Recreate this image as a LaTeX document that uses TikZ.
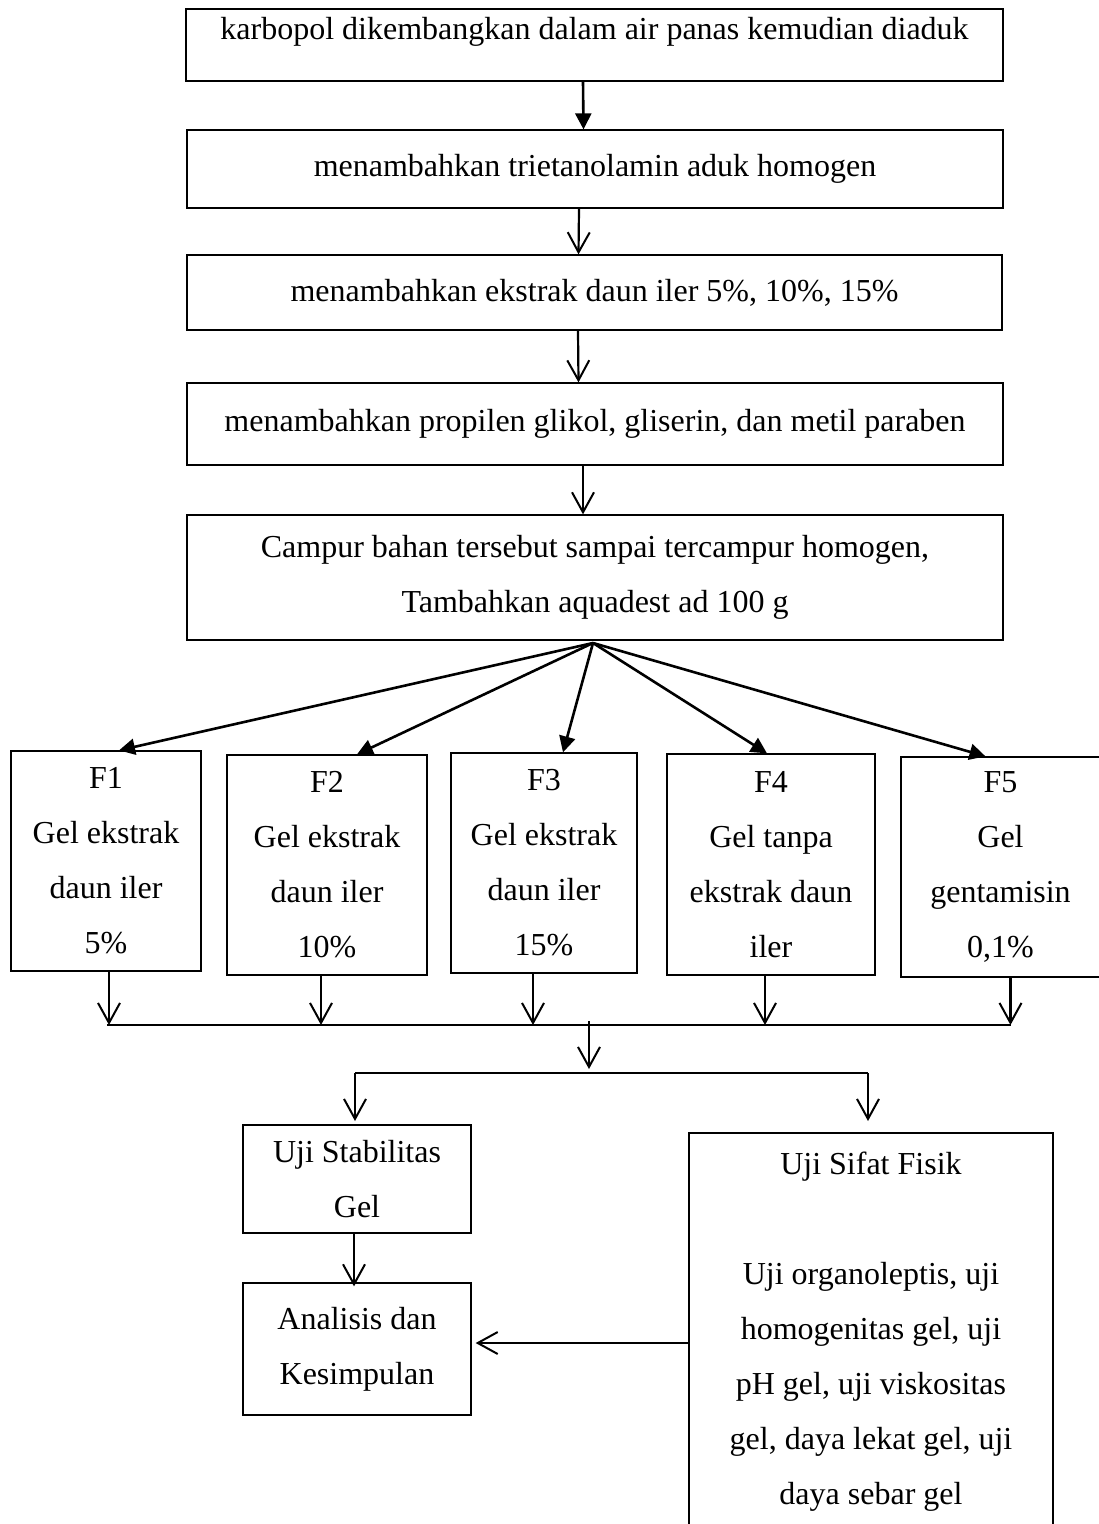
\documentclass[tikz,border=0pt]{standalone}
\usepackage{fontspec}
\setmainfont{Liberation Serif}
\usetikzlibrary{arrows.meta}

\tikzset{
  box/.style={draw, line width=1.3pt, align=center, inner sep=0pt},
  arr/.style={line width=2.2pt, -{Straight Barb[length=20pt,width=22pt,line width=2pt]}},
  farr/.style={line width=2.6pt, -{Triangle[length=16pt,width=16pt]}},
  bar/.style={line width=2.6pt}
}

\begin{document}
\begin{tikzpicture}[x=1pt, y=-1pt, font=\fontsize{32pt}{55pt}\selectfont]
    \useasboundingbox (0,0) rectangle (1099,1524);

    % langkah pembuatan gel
    \node[box, minimum width=817pt, minimum height=72pt, text depth=34pt] (k1) at (594.5,45)
        {karbopol dikembangkan dalam air panas kemudian diaduk};
    \node[box, minimum width=816pt, minimum height=78pt] (k2) at (595,169)
        {menambahkan trietanolamin aduk homogen};
    \node[box, minimum width=815pt, minimum height=75pt] (k3) at (594.5,292.5)
        {menambahkan ekstrak daun iler 5\%, 10\%, 15\%};
    \node[box, minimum width=816pt, minimum height=82pt] (k4) at (595,424)
        {menambahkan propilen glikol, gliserin, dan metil paraben};
    \node[box, minimum width=816pt, minimum height=125pt] (k5) at (595,577.5)
        {Campur bahan tersebut sampai tercampur homogen,\\ Tambahkan aquadest ad 100 g};

    \draw[farr] ([xshift=-11.5pt]k1.south) -- ([xshift=-11.5pt]k2.north);
    \draw[arr] ([xshift=-16pt]k2.south) -- ([xshift=-16pt]k3.north);
    \draw[arr] ([xshift=-16.5pt]k3.south) -- ([xshift=-16.5pt]k4.north);
    \draw[arr] ([xshift=-12pt]k4.south) -- ([xshift=-12pt]k5.north);

    % formula
    \node[box, minimum width=190pt, minimum height=220pt] (f1) at (106,861)
        {F1\\ Gel ekstrak\\ daun iler\\ 5\%};
    \node[box, minimum width=200pt, minimum height=220pt] (f2) at (327,865)
        {F2\\ Gel ekstrak\\ daun iler\\ 10\%};
    \node[box, minimum width=186pt, minimum height=220pt] (f3) at (544,863)
        {F3\\ Gel ekstrak\\ daun iler\\ 15\%};
    \node[box, minimum width=208pt, minimum height=221pt] (f4) at (771,864.5)
        {F4\\ Gel tanpa\\ ekstrak daun\\ iler};
    \node[box, minimum width=199pt, minimum height=220pt] (f5) at (1000.5,867)
        {F5\\ Gel\\ gentamisin\\ 0,1\%};

    \coordinate (pusat) at (593,643);
    \draw[farr] (pusat) -- ([xshift=13pt]f1.north);
    \draw[farr] (pusat) -- ([xshift=30pt]f2.north);
    \draw[farr] (pusat) -- ([xshift=19pt]f3.north);
    \draw[farr] (pusat) -- ([xshift=-4pt]f4.north);
    \draw[farr] (pusat) -- ([xshift=-15pt]f5.north);

    % garis kumpul
    \coordinate (g1) at (107,1025);
    \coordinate (g2) at (1011,1025);
    \draw[bar] (g1) -- (g2);
    \draw[arr] ([xshift=3pt]f1.south) -- ([xshift=3pt]f1.south |- g1);
    \draw[arr] ([xshift=-6pt]f2.south) -- ([xshift=-6pt]f2.south |- g1);
    \draw[arr] ([xshift=-11pt]f3.south) -- ([xshift=-11pt]f3.south |- g1);
    \draw[arr] ([xshift=-6pt]f4.south) -- ([xshift=-6pt]f4.south |- g1);
    \draw[arr] ([xshift=10pt]f5.south) -- ([xshift=10pt]f5.south |- g1);

    \coordinate (t1) at (589,1021);
    \coordinate (t2) at (589,1069);
    \draw[arr] (t1) -- (t2);

    \coordinate (h1) at (355,1073);
    \coordinate (h2) at (868,1073);
    \draw[bar] (h1) -- (h2);

    % pengujian
    \node[box, minimum width=228pt, minimum height=108pt] (uji1) at (357,1179)
        {Uji Stabilitas\\ Gel};
    \node[box, minimum width=228pt, minimum height=132pt] (hasil) at (357,1349)
        {Analisis dan\\ Kesimpulan};
    \node[box, minimum width=364pt, minimum height=397pt] (uji2) at (871,1331.5)
        {Uji Sifat Fisik\\[55pt] Uji organoleptis, uji\\ homogenitas gel, uji\\
         pH gel, uji viskositas\\ gel, daya lekat gel, uji\\ daya sebar gel};

    \draw[arr] (h1) -- (h1 |- 0,1121);
    \draw[arr] (h2) -- (h2 |- 0,1121);
    \draw[arr] ([xshift=-3pt]uji1.south) -- ([xshift=-3pt,yshift=-4pt]hasil.north);
    \coordinate (ya) at (0,1343);
    \draw[arr] (uji2.west |- ya) -- ([xshift=4pt]hasil.east |- ya);
\end{tikzpicture}
\end{document}
